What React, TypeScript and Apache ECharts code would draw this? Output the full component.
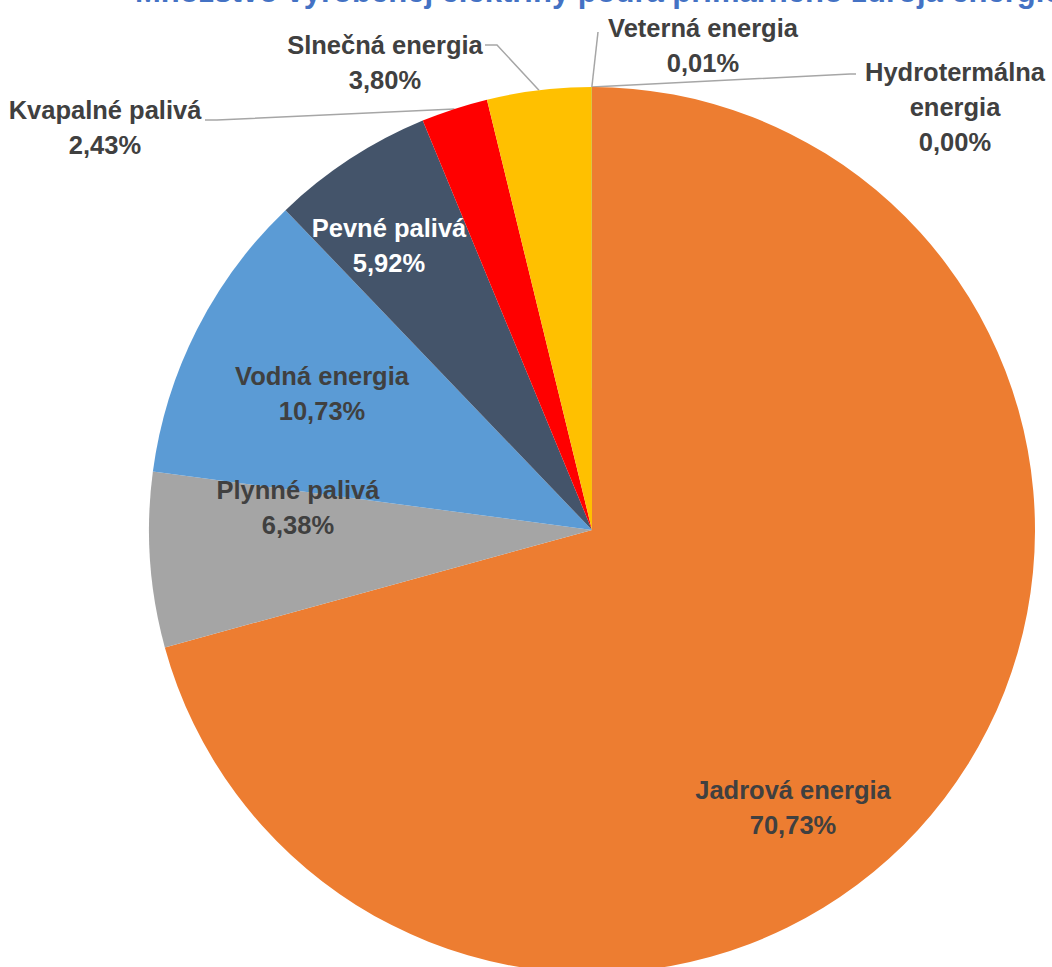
import React, { useEffect, useRef } from "react";
import * as echarts from "echarts";

const titleText = "Množstvo vyrobenej elektriny podľa primárneho zdroja energie";
const categories = [
  "Jadrová energia",
  "Plynné palivá",
  "Vodná energia",
  "Pevné palivá",
  "Kvapalné palivá",
  "Slnečná energia",
  "Veterná energia",
  "Hydrotermálna energia",
];
const shares = [70.73, 6.38, 10.73, 5.92, 2.43, 3.8, 0.01, 0.0];
const colors = ["#ED7D31", "#A5A5A5", "#5B9BD5", "#44546A", "#FF0000", "#FFC000", "#70AD47", "#264478"];

const FONT = '"Liberation Sans Narrow", "Liberation Sans", sans-serif';

// label placement (layout only)
const labelPos: { x: number; y: number; line?: number[][] }[] = [
  { x: 793, y: 807 },
  { x: 298, y: 507 },
  { x: 322, y: 393 },
  { x: 389, y: 245 },
  { x: 105, y: 127, line: [[217, 120], [205, 120]] },
  { x: 385, y: 62, line: [[497, 45], [485, 45]] },
  { x: 703, y: 45, line: [[598, 32], [598, 32]] },
  { x: 955, y: 107, line: [[850, 74], [856, 74]] },
];
const insideCount = 4;

export default function App() {
  const ref = useRef<HTMLDivElement>(null);
  useEffect(() => {
    if (!ref.current) return;
    const chart = echarts.init(ref.current, null, { renderer: "svg" });
    const data = categories.map((name, i) => ({
      name,
      value: shares[i],
      itemStyle: { color: colors[i] },
      label: {
        position: i < insideCount ? "inside" : "outside",
        color: i === 3 ? "#FFFFFF" : "#404040",
      },
      labelLine: { show: i >= insideCount },
    }));
    chart.setOption({
      animation: false,
      graphic: [
        {
          type: "text",
          x: 135,
          y: 7,
          style: {
            text: titleText,
            font: `bold 31px ${FONT}`,
            fill: "#4472C4",
            verticalAlign: "bottom",
            align: "left",
          },
        },
      ],
      series: [
        {
          type: "pie",
          center: [592, 530],
          radius: [0, 443],
          startAngle: 90,
          clockwise: true,
          data,
          label: {
            formatter: (p: any) => {
              const name = p.dataIndex === 7 ? p.name.replace(" ", "\n") : p.name;
              return `${name}\n${Number(p.value).toFixed(2).replace(".", ",")}%`;
            },
            fontFamily: FONT,
            fontWeight: "bold",
            fontSize: 25.5,
            lineHeight: 35,
            align: "center",
            overflow: "none",
          },
          labelLine: {
            lineStyle: { color: "#A6A6A6", width: 1.5 },
          },
          labelLayout: (params: any) => {
            const lp = labelPos[params.dataIndex];
            const out: any = { x: lp.x, y: lp.y, align: "center", verticalAlign: "middle" };
            if (lp.line && params.labelLinePoints) {
              out.labelLinePoints = [params.labelLinePoints[0], lp.line[0], lp.line[1]];
            }
            return out;
          },
          emphasis: { disabled: true },
        },
      ],
    });
    return () => chart.dispose();
  }, []);
  return (
    <div
      ref={ref}
      style={{ position: "fixed", left: 0, top: 0, width: 1052, height: 967, background: "#fff" }}
    />
  );
}
